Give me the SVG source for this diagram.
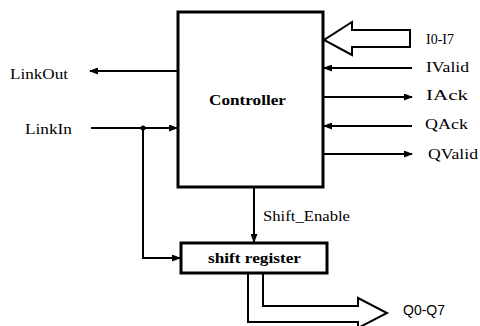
<svg xmlns="http://www.w3.org/2000/svg" width="480" height="326" viewBox="0 0 480 326">
<style>
.box{fill:#fff;stroke:#000;stroke-width:3}
.ln{fill:none;stroke:#000;stroke-width:2}
.big{fill:#fff;stroke:#000;stroke-width:2;stroke-linejoin:miter}
.lbl{font-family:"Liberation Serif",serif;font-size:14px;fill:#000}
.sans{font-family:"Liberation Sans",sans-serif;font-size:14px;fill:#000}
.bold{font-family:"Liberation Serif",serif;font-size:14px;font-weight:bold;fill:#000}
</style>
<defs>
<marker id="ah" markerWidth="9" markerHeight="7" refX="8" refY="3.5" orient="auto" markerUnits="userSpaceOnUse">
<path d="M0,0 L9,3.5 L0,7 Z" fill="#000"/>
</marker>
</defs>
<g id="connectors">
<line class="ln" x1="178" y1="71" x2="90" y2="71" marker-end="url(#ah)"/>
<line class="ln" x1="91" y1="128" x2="177" y2="128" marker-end="url(#ah)"/>
<circle cx="143" cy="128" r="2.5" fill="#000"/>
<path class="ln" d="M143,128 V258 H180" marker-end="url(#ah)"/>
<line class="ln" x1="412" y1="68" x2="324" y2="68" marker-end="url(#ah)"/>
<line class="ln" x1="323" y1="97" x2="412" y2="97" marker-end="url(#ah)"/>
<line class="ln" x1="412" y1="126" x2="324" y2="126" marker-end="url(#ah)"/>
<line class="ln" x1="323" y1="154" x2="412" y2="154" marker-end="url(#ah)"/>
<line class="ln" x1="254" y1="187" x2="254" y2="242" marker-end="url(#ah)"/>
<polygon class="big" points="410,30 352,30 352,22 324,40 352,55 352,47 410,47"/>
<path class="big" d="M263,273 V306 H358 V298 L387,313 L358,328 V322 H248 V273"/>
</g>
<g id="controller">
<rect class="box" x="178" y="12" width="145" height="175"/>
<text class="bold" x="209" y="105" textLength="77" lengthAdjust="spacingAndGlyphs">Controller</text>
</g>
<g id="shift-register">
<rect class="box" x="181" y="243" width="146" height="30"/>
<text class="bold" x="208" y="263" textLength="93" lengthAdjust="spacingAndGlyphs">shift register</text>
</g>
<g id="labels">
<text class="lbl" x="10" y="79" textLength="58" lengthAdjust="spacingAndGlyphs">LinkOut</text>
<text class="lbl" x="25" y="134" textLength="47" lengthAdjust="spacingAndGlyphs">LinkIn</text>
<text class="lbl" x="426" y="44">I0-I7</text>
<text class="lbl" x="426" y="72" textLength="43" lengthAdjust="spacingAndGlyphs">IValid</text>
<text class="lbl" x="426" y="100" textLength="42" lengthAdjust="spacingAndGlyphs">IAck</text>
<text class="lbl" x="425" y="129" textLength="43" lengthAdjust="spacingAndGlyphs">QAck</text>
<text class="lbl" x="428" y="159" textLength="50" lengthAdjust="spacingAndGlyphs">QValid</text>
<text class="lbl" x="263" y="221" textLength="87" lengthAdjust="spacingAndGlyphs">Shift_Enable</text>
<text class="sans" x="403" y="315">Q0-Q7</text>
</g>
</svg>
